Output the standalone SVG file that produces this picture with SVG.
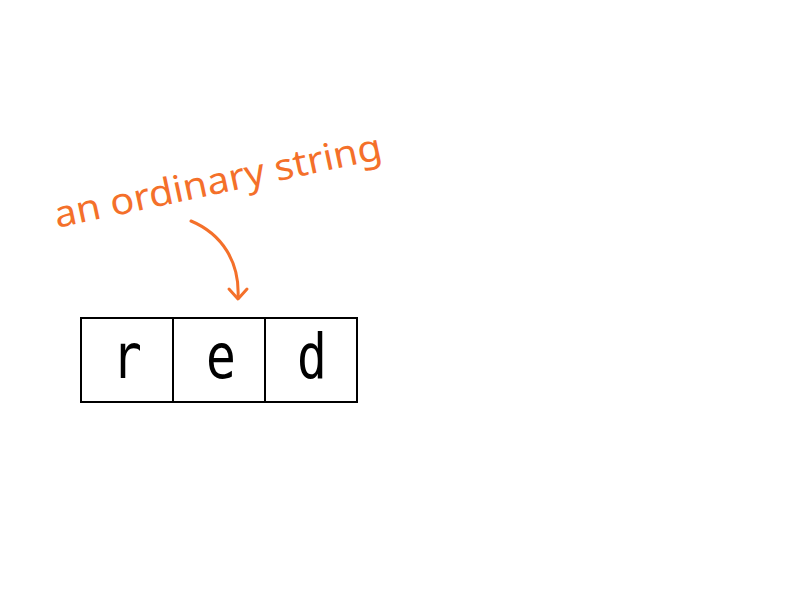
<svg xmlns="http://www.w3.org/2000/svg" width="800" height="600" viewBox="0 0 800 600">
<style>
.cell{fill:#fff;stroke:#000;stroke-width:2}
.ch{font-family:"DejaVu Sans Mono","Liberation Mono",monospace;font-size:62px;fill:#000;text-anchor:middle}
.note{font-family:"Noto Sans","DejaVu Sans","Liberation Sans",sans-serif;font-size:37px;fill:#f4702a}
.conn{fill:none;stroke:#f4702a;stroke-width:3;stroke-linecap:round;stroke-linejoin:round}
</style>
<rect width="800" height="600" fill="#fff"/>
<g id="cell-r"><rect class="cell" x="81" y="318" width="92" height="84"/><text class="ch" transform="translate(127 378) scale(0.8 1)">r</text></g>
<g id="cell-e"><rect class="cell" x="173" y="318" width="92" height="84"/><text class="ch" transform="translate(221 378) scale(0.8 1)">e</text></g>
<g id="cell-d"><rect class="cell" x="265" y="318" width="92" height="84"/><text class="ch" transform="translate(312 378) scale(0.8 1)">d</text></g>
<g id="label"><text class="note" x="57" y="228" transform="rotate(-12 57 228)" textLength="334" lengthAdjust="spacingAndGlyphs">an ordinary string</text></g>
<g id="connectors">
<path class="conn" d="M191 221 C222 234 240 262 238 298"/>
<path class="conn" d="M229 289 L238 299 L247 289"/>
</g>
</svg>
